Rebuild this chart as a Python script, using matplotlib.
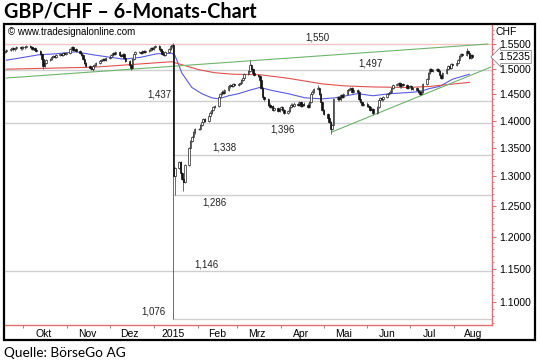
import matplotlib
matplotlib.use("Agg")
import matplotlib.pyplot as plt
import matplotlib.dates as mdates
import matplotlib.transforms as mtrans
from matplotlib.patches import Rectangle
from matplotlib.ticker import FixedLocator, FuncFormatter, NullFormatter
import numpy as np
import pandas as pd

# daily closes GBP/CHF (business days from 18.09.2014)
sep14 = [1.536, 1.538, 1.540, 1.541, 1.539, 1.542, 1.543, 1.541, 1.544]
okt14 = [1.543, 1.544, 1.545, 1.544, 1.540, 1.541, 1.538, 1.536, 1.530, 1.520,
         1.506, 1.512, 1.518, 1.520, 1.523, 1.526, 1.524, 1.527, 1.529, 1.528,
         1.531, 1.530, 1.532]
nov14 = [1.540, 1.544, 1.538, 1.540, 1.535, 1.532, 1.528, 1.520, 1.512, 1.505,
         1.502, 1.500, 1.505, 1.508, 1.512, 1.515, 1.518, 1.520, 1.518, 1.522]
dez14 = [1.524, 1.528, 1.532, 1.530, 1.533, 1.528, 1.525, 1.530, 1.522, 1.515,
         1.508, 1.502, 1.520, 1.530, 1.533, 1.534, 1.532, 1.535, 1.534, 1.536,
         1.538, 1.542, 1.540]
jan15 = [1.544, 1.546, 1.540, 1.535, 1.530, 1.528, 1.533, 1.540, 1.545, 1.548,
         1.300, 1.315, 1.325, 1.305, 1.295, 1.290, 1.320, 1.350, 1.362, 1.370,
         1.378, 1.385]
feb15 = [1.385, 1.392, 1.398, 1.402, 1.400, 1.408, 1.415, 1.420, 1.425, 1.428,
         1.445, 1.450, 1.455, 1.452, 1.458, 1.465, 1.468, 1.466, 1.470, 1.468]
mrz15 = [1.470, 1.472, 1.478, 1.482, 1.490, 1.495, 1.508, 1.500, 1.492, 1.488,
         1.485, 1.478, 1.462, 1.445, 1.440, 1.430, 1.425, 1.428, 1.420, 1.424,
         1.418, 1.422]
apr15 = [1.425, 1.420, 1.415, 1.418, 1.425, 1.430, 1.428, 1.432, 1.430, 1.435,
         1.428, 1.432, 1.430, 1.425, 1.435, 1.450, 1.455, 1.460, 1.462, 1.450,
         1.435, 1.420]
mai15 = [1.412, 1.405, 1.398, 1.385, 1.392, 1.440, 1.445, 1.440, 1.448, 1.445,
         1.450, 1.458, 1.460, 1.462, 1.455, 1.458, 1.455, 1.440, 1.435, 1.430,
         1.432]
jun15 = [1.428, 1.425, 1.420, 1.422, 1.415, 1.425, 1.438, 1.442, 1.440, 1.445,
         1.450, 1.452, 1.455, 1.462, 1.468, 1.470, 1.472, 1.465, 1.470, 1.468,
         1.462, 1.465]
jul15 = [1.465, 1.460, 1.462, 1.458, 1.455, 1.450, 1.455, 1.470, 1.480, 1.492,
         1.500, 1.495, 1.498, 1.500, 1.495, 1.488, 1.482, 1.492, 1.500, 1.505,
         1.502, 1.510, 1.508]
aug15 = [1.512, 1.518, 1.525, 1.530, 1.528, 1.535, 1.532, 1.522, 1.528, 1.5235]
first_open = 1.534

# intraday extremes that stand out from the bodies
spike_highs = {"2015-01-15": 1.552, "2015-03-10": 1.517, "2015-04-27": 1.467,
               "2015-08-10": 1.541}
spike_lows = {"2015-01-15": 1.076, "2015-01-16": 1.268, "2015-01-22": 1.275,
              "2015-05-06": 1.375, "2014-10-15": 1.499, "2014-11-19": 1.495,
              "2014-12-16": 1.498, "2015-06-05": 1.410}

# moving averages (blue = short, red = long)
blue_dates = ["2014-09-19", "2014-10-12", "2014-10-24", "2014-11-07", "2014-11-19",
              "2014-12-11", "2014-12-23", "2015-01-03", "2015-01-14", "2015-01-16",
              "2015-01-21", "2015-01-28", "2015-02-04", "2015-02-11", "2015-02-16",
              "2015-02-23", "2015-03-02", "2015-03-09", "2015-03-17", "2015-03-26",
              "2015-04-06", "2015-04-18", "2015-04-30", "2015-05-09", "2015-05-25",
              "2015-06-05", "2015-06-17", "2015-06-29", "2015-07-08", "2015-07-15",
              "2015-07-22", "2015-07-31", "2015-08-12"]
blue_vals = [1.517, 1.528, 1.530, 1.534, 1.528, 1.519, 1.523, 1.530, 1.531, 1.527,
             1.491, 1.463, 1.451, 1.443, 1.441, 1.447, 1.451, 1.457, 1.463, 1.457,
             1.451, 1.443, 1.441, 1.443, 1.451, 1.447, 1.451, 1.453, 1.455, 1.461,
             1.465, 1.479, 1.489]
red_dates = ["2014-09-19", "2014-11-20", "2015-01-14", "2015-01-16", "2015-02-02",
             "2015-02-13", "2015-02-26", "2015-03-17", "2015-04-06", "2015-04-30",
             "2015-05-16", "2015-06-05", "2015-06-29", "2015-07-15", "2015-08-12"]
red_vals = [1.499, 1.503, 1.514, 1.512, 1.498, 1.492, 1.489, 1.488, 1.481, 1.470,
            1.466, 1.464, 1.463, 1.465, 1.473]

# trend lines
trend_long = (["2014-09-19", "2015-08-25"], [1.4815, 1.550])
trend_short = (["2015-05-07", "2015-08-27"], [1.379, 1.503])

# horizontal marks
levels = [1.550, 1.497, 1.437, 1.396, 1.338, 1.286, 1.146, 1.076]
level_line = [1.550, 1.497, 1.437, 1.396, 1.338, 1.268, 1.146, 1.076]
level_start = [None, None, None, None, "2015-01-15", "2015-01-15", None, "2015-01-15"]
label_dates = ["2015-04-27", "2015-06-03", "2015-01-05", "2015-04-02", "2015-02-20",
               "2015-02-13", "2015-02-07", "2015-01-01"]
label_above = [True, True, True, False, True, False, True, True]

month_starts = ["2014-10-01", "2014-11-01", "2014-12-01", "2015-01-01", "2015-02-01",
                "2015-03-01", "2015-04-01", "2015-05-01", "2015-06-01", "2015-07-01",
                "2015-08-01"]
month_labels = ["Okt", "Nov", "Dez", "2015", "Feb", "Mrz", "Apr", "Mai", "Jun", "Jul", "Aug"]
y_ticks = [1.10, 1.15, 1.20, 1.25, 1.30, 1.35, 1.40, 1.45, 1.50, 1.55]
last_price = 1.5235

closes = np.array(sep14 + okt14 + nov14 + dez14 + jan15 + feb15 + mrz15 + apr15
                  + mai15 + jun15 + jul15 + aug15)
dates = pd.bdate_range("2014-09-18", periods=len(closes))
opens = np.concatenate([[first_open], closes[:-1]])
pad = 0.0015
highs = np.maximum(opens, closes) * (1 + pad)
lows = np.minimum(opens, closes) * (1 - pad)
for d, v in spike_highs.items():
    highs[dates.get_loc(pd.Timestamp(d))] = v
for d, v in spike_lows.items():
    lows[dates.get_loc(pd.Timestamp(d))] = v

dn = lambda s: mdates.date2num(pd.to_datetime(s))
x = mdates.date2num(dates)

fig = plt.figure(figsize=(5.4, 3.64), dpi=100)
ax = fig.add_axes([5 / 540, 1 - 325 / 364, 487 / 540, 300 / 364])
ax.set_yscale("log")
ax.set_ylim(1.0668, 1.5897)
ax.set_xlim(dn("2014-09-18"), dn("2015-08-28"))

red = "#e07070"
for s in ["left", "top"]:
    ax.spines[s].set_visible(False)
for s in ["right", "bottom"]:
    ax.spines[s].set_color(red)
    ax.spines[s].set_linewidth(1.0)

# levels
for lv, ln, st, ld, above in zip(levels, level_line, level_start, label_dates, label_above):
    x0 = dn(st) if st else dn("2014-09-18")
    col = "#f2c4c4" if lv == 1.550 else "#cfcfcf"
    ax.plot([x0, dn("2015-08-28")], [ln, ln], color=col, lw=1.0, zorder=1)
    ax.annotate(f"{lv:.3f}".replace(".", ","), (dn(ld), ln),
                xytext=(0, 1.2 if above else -1.5), textcoords="offset points",
                ha="center", va="bottom" if above else "top",
                fontsize=7, family="Liberation Sans", color="#222")

# moving averages and trend lines
ax.plot(dn(blue_dates), blue_vals, color="#5a5ae0", lw=0.8, zorder=2)
ax.plot(dn(red_dates), red_vals, color="#e05050", lw=0.8, zorder=2)
ax.plot(dn(trend_long[0]), trend_long[1], color="#6db56d", lw=0.8, zorder=2)
ax.plot(dn(trend_short[0]), trend_short[1], color="#6db56d", lw=0.8, zorder=2)

# candles
up = closes >= opens
ax.vlines(x, lows, highs, color="#555", lw=0.6, zorder=3)
ax.bar(x[up], closes[up] - opens[up], bottom=opens[up], width=1.1,
       color="white", edgecolor="#222", lw=0.5, zorder=4)
ax.bar(x[~up], opens[~up] - closes[~up], bottom=closes[~up], width=1.1,
       color="#111", edgecolor="#111", lw=0.5, zorder=4)

# y axis on the right
ax.yaxis.tick_right()
ax.yaxis.set_major_locator(FixedLocator(y_ticks))
ax.yaxis.set_major_formatter(FuncFormatter(lambda v, p: f"{v:.4f}"))
ax.yaxis.set_minor_locator(FixedLocator(np.arange(1.07, 1.59, 0.01)))
ax.yaxis.set_minor_formatter(NullFormatter())
ax.tick_params(axis="y", which="major", length=3, color=red, labelsize=7.5, pad=2)
ax.tick_params(axis="y", which="minor", length=1.5, color=red)
for t in ax.get_yticklabels():
    t.set_family("Liberation Sans")

# x axis
mid = [dn(m) + 14 for m in month_starts]
ax.set_xticks(mid)
ax.set_xticklabels(month_labels)
ax.set_xticks(dn(month_starts), minor=True)
ax.tick_params(axis="x", which="major", length=0, labelsize=7.5, pad=3)
ax.tick_params(axis="x", which="minor", length=2.5, color="#777")
for t in ax.get_xticklabels():
    t.set_family("Liberation Sans")

trans = mtrans.blended_transform_factory(ax.transAxes, ax.transData)
ax.text(1.012, last_price, "1.5235", transform=trans, ha="left", va="center",
        fontsize=7.5, family="Liberation Sans",
        bbox=dict(boxstyle="larrow,pad=0.15", fc="white", ec="#888", lw=0.6))
fig.text(495 / 540, 1 - 32 / 364, "CHF", fontsize=7.5, family="Liberation Sans",
         va="center")
fig.text(8 / 540, 1 - 32 / 364, "© www.tradesignalonline.com", fontsize=7,
         family="Liberation Sans", va="center")

fig.patches.append(Rectangle((4 / 540, 1 - 340 / 364), 531 / 540, 316 / 364,
                             fill=False, lw=1.6, ec="black", transform=fig.transFigure))
fig.text(4 / 540, 1 - 12 / 364, "GBP/CHF – 6-Monats-Chart", fontsize=14.2,
         weight="bold", family="Lato", va="center")
fig.text(4 / 540, 1 - 353 / 364, "Quelle: BörseGo AG", fontsize=9.8,
         family="Lato", va="center")

fig.savefig("out.png", dpi=100)
